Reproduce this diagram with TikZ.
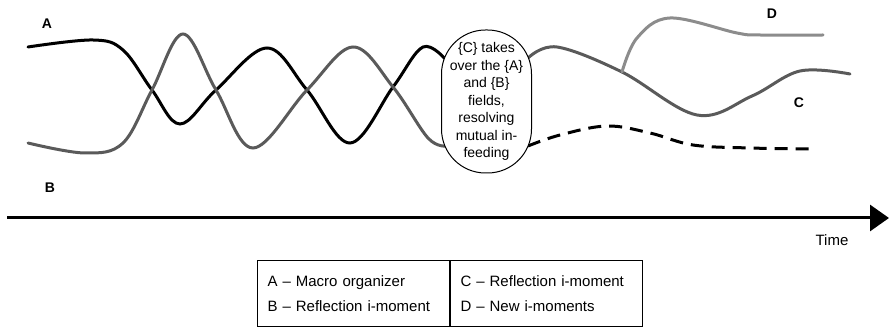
\documentclass[tikz,border=0pt]{standalone}
\usepackage{fontspec}
\setmainfont{Liberation Sans}
\usetikzlibrary{arrows.meta,positioning}
\definecolor{bgray}{HTML}{5A5A5A}
\definecolor{dgray}{HTML}{8C8C8C}
\tikzset{
  wave/.style={line width=3pt,line cap=round},
  curvelabel/.style={font=\fontsize{14}{16}\selectfont\bfseries},
  legcell/.style={draw,line width=1pt,minimum width=192pt,minimum height=66pt,inner sep=10pt,text width=172pt,align=left,font=\fontsize{15}{25}\selectfont},
}
\begin{document}
\begin{tikzpicture}[x=1pt,y=-1pt]
  \useasboundingbox (0,0) rectangle (889,328);
  \coordinate (aIn) at (447,61); % A enters the box
  \coordinate (bIn) at (447,146); % B enters the box
  \coordinate (cOut) at (528,58); % C leaves the box
  \coordinate (dashOut) at (528,146); % dashed line leaves the box
  \coordinate (split) at (622,72); % D branches off C
  \draw[wave,smooth,tension=0.6] plot coordinates {(28,47) (93,40) (123,50) (152,90) (180,124) (216,90) (267,48) (307,90) (350,143) (393,87) (423,47) (aIn)}; % A
  \draw[wave,bgray,smooth,tension=0.6] plot coordinates {(28,143) (85,153) (123,143) (152,90) (183,34) (216,90) (253,148) (307,90) (353,47) (393,87) (428,138) (bIn)}; % B
  \draw[wave,bgray,smooth,tension=0.6] plot coordinates {(cOut) (557,47) (split) (697,115) (752,96) (800,71) (850,74)}; % C
  \draw[wave,dgray,smooth,tension=0.6] plot coordinates {(split) (637,38) (670,18) (737,33) (760,35) (823,35)}; % D
  \draw[wave,line cap=butt,dash pattern=on 13pt off 8pt,smooth,tension=0.6] plot coordinates {(dashOut) (560,135) (607,126) (650,133) (693,145) (750,148) (813,149)}; % dashed
  \node[draw,fill=white,line width=1pt,rounded corners=44pt,minimum width=90pt,minimum height=143pt,inner sep=1pt,align=center,font=\fontsize{14}{17.5}\selectfont] (takeover) at (486.5,101.5)
    {\{C\} takes\\over the \{A\}\\and \{B\}\\fields,\\resolving\\mutual in-\\feeding};
  \node[curvelabel] (labA) at (47,24) {A};
  \node[curvelabel] (labB) at (50,188) {B};
  \node[curvelabel] (labC) at (799,103) {C};
  \node[curvelabel] (labD) at (772,14) {D};
  \coordinate (t0) at (7,218);
  \coordinate (t1) at (889,218);
  \draw[line width=3pt,-{Triangle[length=19pt,width=26pt]}] (t0) -- (t1); % time axis
  \node[font=\fontsize{15}{17}\selectfont] (time) at (832,240) {Time};
  \node[legcell,anchor=north west] (legL) at (257,260) {A -- Macro organizer\\B -- Reflection i-moment};
  \node[legcell,anchor=north west] (legR) at (legL.north east) {C -- Reflection i-moment\\D -- New i-moments};
\end{tikzpicture}
\end{document}
